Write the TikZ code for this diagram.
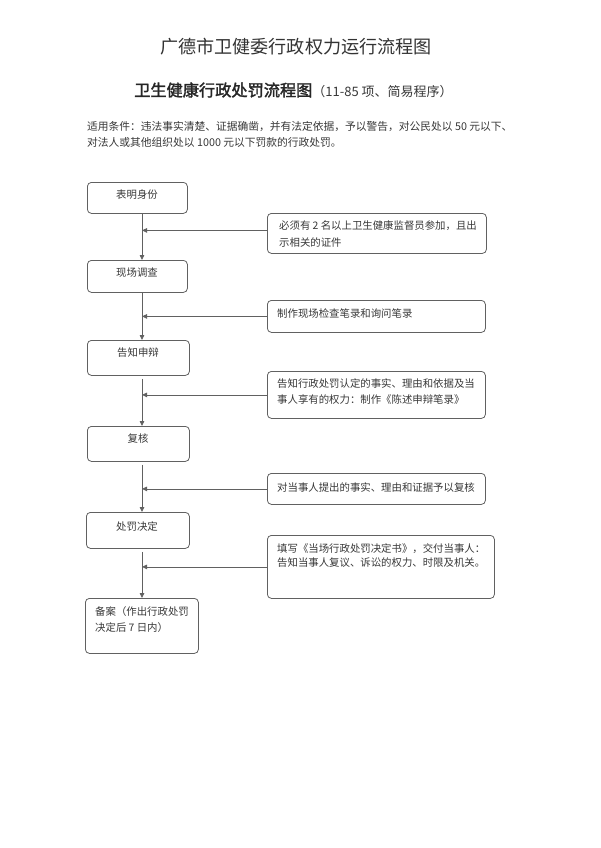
\documentclass[tikz,border=0pt]{standalone}
\usepackage{fontspec}
\setmainfont{Noto Sans CJK SC}
\newfontfamily\cjkbold[FakeBold=2]{Noto Sans CJK SC}
\usetikzlibrary{arrows.meta,calc}
\definecolor{linec}{gray}{0.38}
\definecolor{txtc}{gray}{0.22}
\begin{document}
\begin{tikzpicture}[x=1pt,y=-1pt,
  box/.style={draw=linec, line width=0.8pt, rounded corners=4pt, inner sep=0pt, anchor=north west},
  btxt/.style={inner sep=0pt, text=txtc, font=\fontsize{10.4}{16}\selectfont},
  ltxt/.style={inner sep=0pt, text=txtc, anchor=north west, align=left},
  conn/.style={draw=linec, line width=0.8pt, -{Triangle[length=5pt,width=4.5pt]}}
]
\useasboundingbox[fill=white] (0,0) rectangle (600,848);

% titles
\node[inner sep=0pt, text=black!80, font=\fontsize{18.1}{20}\selectfont] (title) at (296,47) {广德市卫健委行政权力运行流程图};
\node[inner sep=0pt, anchor=west, text=black!85] (sub) at (134,90)
  {{\cjkbold\fontsize{16.2}{18}\selectfont 卫生健康行政处罚流程图}{\fontsize{13}{15}\selectfont\color{txtc}（11-85 项、简易程序）}};
\node[ltxt, font=\fontsize{10.75}{16}\selectfont] (cond) at (87,121.6)
  {适用条件：违法事实清楚、证据确凿，并有法定依据，予以警告，对公民处以 50 元以下、\\
   对法人或其他组织处以 1000 元以下罚款的行政处罚。};

% main boxes
\node[box, minimum width=100pt, minimum height=31pt] (b1) at (87,182) {};
\node[box, minimum width=100pt, minimum height=32pt] (b2) at (87,260) {};
\node[box, minimum width=102pt, minimum height=35pt] (b3) at (87,340) {};
\node[box, minimum width=102pt, minimum height=35pt] (b4) at (87,426) {};
\node[box, minimum width=103pt, minimum height=36pt] (b5) at (86,512) {};
\node[box, minimum width=113pt, minimum height=55pt] (b6) at (85,598) {};

\node[btxt] (t1) at (137,195) {表明身份};
\node[btxt] (t2) at (137,273) {现场调查};
\node[btxt] (t3) at (138,353) {告知申辩};
\node[btxt] (t4) at (138,439) {复核};
\node[btxt] (t5) at (137,527) {处罚决定};
\node[ltxt, font=\fontsize{10.4}{16.5}\selectfont] (t6) at (95,606) {备案（作出行政处罚\\决定后 7 日内）};

% side boxes
\node[box, minimum width=219pt, minimum height=40pt] (s1) at (267,213) {};
\node[box, minimum width=218pt, minimum height=32pt] (s2) at (267,300) {};
\node[box, minimum width=218pt, minimum height=47pt] (s3) at (267,371) {};
\node[box, minimum width=218pt, minimum height=31pt] (s4) at (267,473) {};
\node[box, minimum width=227pt, minimum height=63pt] (s5) at (267,535) {};

\node[ltxt, font=\fontsize{10.4}{17}\selectfont] (u1) at (279,220.8) {必须有 2 名以上卫生健康监督员参加，且出\\示相关的证件};
\node[btxt, anchor=west] (u2) at (277,314) {制作现场检查笔录和询问笔录};
\node[ltxt, font=\fontsize{10.4}{16}\selectfont] (u3) at (277,378.8) {告知行政处罚认定的事实、理由和依据及当\\事人享有的权力：制作《陈述申辩笔录》};
\node[btxt, anchor=west] (u4) at (277,488) {对当事人提出的事实、理由和证据予以复核};
\node[ltxt, font=\fontsize{10.4}{14.5}\selectfont] (u5) at (277,543.3) {填写《当场行政处罚决定书》，交付当事人：\\告知当事人复议、诉讼的权力、时限及机关。};

% main line
\coordinate (m) at (142,0);
\draw[conn] (b1.south -| m) -- (b2.north -| m);
\draw[conn] (b2.south -| m) -- (b3.north -| m);
\draw[conn, shorten <=3pt] (b3.south -| m) -- (b4.north -| m);
\draw[conn, shorten <=3pt] (b4.south -| m) -- (b5.north -| m);
\draw[conn, shorten <=3pt] (b5.south -| m) -- (b6.north -| m);

% side arrows
\draw[conn] ([yshift=3pt]s1.west) -- ([yshift=3pt]s1.west -| m);
\draw[conn] (s2.west) -- (s2.west -| m);
\draw[conn] (s3.west) -- (s3.west -| m);
\draw[conn] (s4.west) -- (s4.west -| m);
\draw[conn] (s5.west) -- (s5.west -| m);
\end{tikzpicture}
\end{document}
